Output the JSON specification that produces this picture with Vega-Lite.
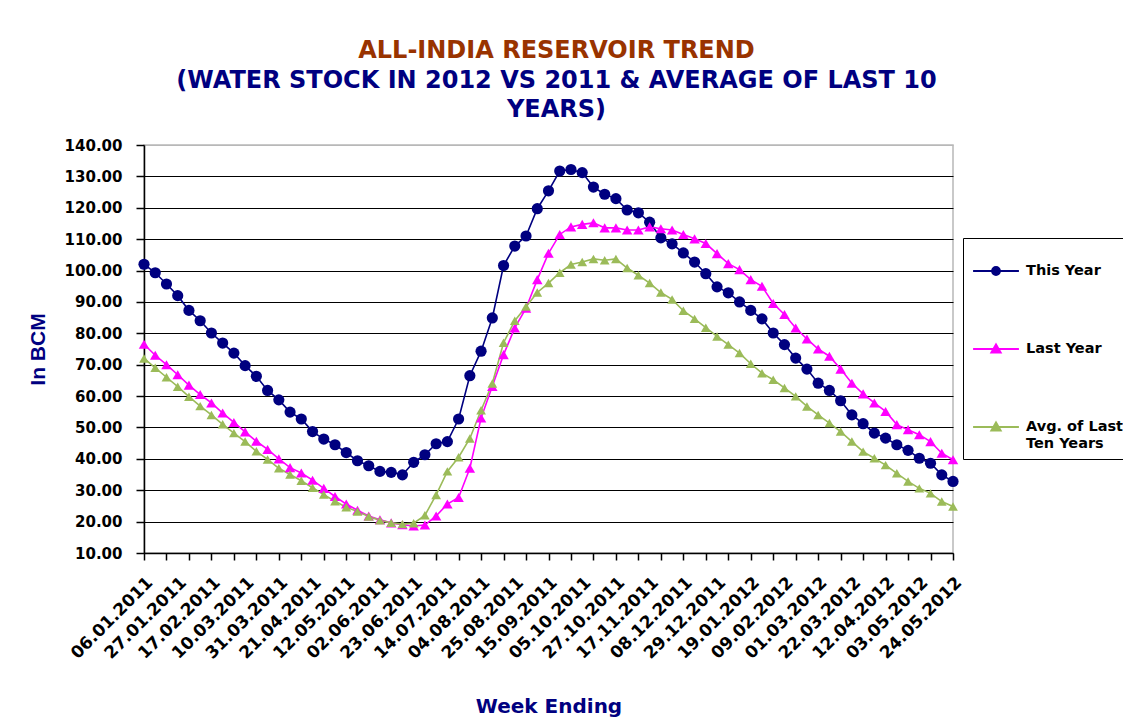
{
  "$schema": "https://vega.github.io/schema/vega-lite/v6.json",
  "width": 809,
  "height": 408,
  "autosize": {"type": "none"},
  "padding": {"left": 144, "top": 145, "right": 170, "bottom": 172},
  "background": "white",
  "params": [
    {"name": "W", "value": ["06.01.2011","13.01.2011","20.01.2011","27.01.2011","03.02.2011","10.02.2011","17.02.2011","24.02.2011","03.03.2011","10.03.2011","17.03.2011","24.03.2011","31.03.2011","07.04.2011","14.04.2011","21.04.2011","28.04.2011","05.05.2011","12.05.2011","19.05.2011","26.05.2011","02.06.2011","09.06.2011","16.06.2011","23.06.2011","30.06.2011","07.07.2011","14.07.2011","21.07.2011","28.07.2011","04.08.2011","11.08.2011","18.08.2011","25.08.2011","01.09.2011","08.09.2011","15.09.2011","22.09.2011","29.09.2011","05.10.2011","13.10.2011","20.10.2011","27.10.2011","03.11.2011","10.11.2011","17.11.2011","24.11.2011","01.12.2011","08.12.2011","15.12.2011","22.12.2011","29.12.2011","05.01.2012","12.01.2012","19.01.2012","26.01.2012","02.02.2012","09.02.2012","16.02.2012","23.02.2012","01.03.2012","08.03.2012","15.03.2012","22.03.2012","29.03.2012","05.04.2012","12.04.2012","19.04.2012","26.04.2012","03.05.2012","10.05.2012","17.05.2012","24.05.2012"]}
  ],
  "title": {
    "text": "ALL-INDIA RESERVOIR TREND",
    "subtitle": ["(WATER STOCK IN 2012 VS 2011  & AVERAGE OF LAST 10", "YEARS)"],
    "anchor": "middle",
    "frame": "group",
    "dx": 8,
    "offset": 16,
    "font": "DejaVu Sans",
    "fontSize": 24,
    "fontWeight": "bold",
    "color": "#993300",
    "subtitleFont": "DejaVu Sans",
    "subtitleFontSize": 24,
    "subtitleFontWeight": "bold",
    "subtitleColor": "#000080",
    "subtitlePadding": 6,
    "subtitleLineHeight": 29
  },
  "data": {
    "values": [
      {"week": "06.01.2011", "This Year": 102.0, "Last Year": 76.5, "Avg of Last Ten Years": 72.0},
      {"week": "13.01.2011", "This Year": 99.3, "Last Year": 73.0, "Avg of Last Ten Years": 69.0},
      {"week": "20.01.2011", "This Year": 95.7, "Last Year": 70.0, "Avg of Last Ten Years": 66.0},
      {"week": "27.01.2011", "This Year": 92.0, "Last Year": 66.8, "Avg of Last Ten Years": 63.0},
      {"week": "03.02.2011", "This Year": 87.3, "Last Year": 63.5, "Avg of Last Ten Years": 59.8},
      {"week": "10.02.2011", "This Year": 84.0, "Last Year": 60.5, "Avg of Last Ten Years": 56.8},
      {"week": "17.02.2011", "This Year": 80.1, "Last Year": 57.8, "Avg of Last Ten Years": 54.0},
      {"week": "24.02.2011", "This Year": 76.9, "Last Year": 54.6, "Avg of Last Ten Years": 51.0},
      {"week": "03.03.2011", "This Year": 73.7, "Last Year": 51.6, "Avg of Last Ten Years": 48.2},
      {"week": "10.03.2011", "This Year": 69.7, "Last Year": 48.6, "Avg of Last Ten Years": 45.5},
      {"week": "17.03.2011", "This Year": 66.3, "Last Year": 45.6, "Avg of Last Ten Years": 42.4},
      {"week": "24.03.2011", "This Year": 61.8, "Last Year": 43.0, "Avg of Last Ten Years": 39.8},
      {"week": "31.03.2011", "This Year": 58.8, "Last Year": 40.0, "Avg of Last Ten Years": 37.0},
      {"week": "07.04.2011", "This Year": 54.9, "Last Year": 37.2, "Avg of Last Ten Years": 35.0},
      {"week": "14.04.2011", "This Year": 52.7, "Last Year": 35.5, "Avg of Last Ten Years": 33.0},
      {"week": "21.04.2011", "This Year": 48.7, "Last Year": 33.2, "Avg of Last Ten Years": 30.8},
      {"week": "28.04.2011", "This Year": 46.3, "Last Year": 30.6, "Avg of Last Ten Years": 28.6},
      {"week": "05.05.2011", "This Year": 44.5, "Last Year": 28.0, "Avg of Last Ten Years": 26.5},
      {"week": "12.05.2011", "This Year": 42.0, "Last Year": 25.6, "Avg of Last Ten Years": 24.6},
      {"week": "19.05.2011", "This Year": 39.4, "Last Year": 23.6, "Avg of Last Ten Years": 23.2},
      {"week": "26.05.2011", "This Year": 37.8, "Last Year": 21.8, "Avg of Last Ten Years": 21.6},
      {"week": "02.06.2011", "This Year": 36.0, "Last Year": 20.6, "Avg of Last Ten Years": 20.4},
      {"week": "09.06.2011", "This Year": 35.7, "Last Year": 19.6, "Avg of Last Ten Years": 19.6},
      {"week": "16.06.2011", "This Year": 34.9, "Last Year": 19.0, "Avg of Last Ten Years": 19.2},
      {"week": "23.06.2011", "This Year": 38.9, "Last Year": 18.6, "Avg of Last Ten Years": 19.5},
      {"week": "30.06.2011", "This Year": 41.3, "Last Year": 18.9, "Avg of Last Ten Years": 22.0},
      {"week": "07.07.2011", "This Year": 44.8, "Last Year": 21.8, "Avg of Last Ten Years": 28.5},
      {"week": "14.07.2011", "This Year": 45.5, "Last Year": 25.6, "Avg of Last Ten Years": 36.0},
      {"week": "21.07.2011", "This Year": 52.7, "Last Year": 27.7, "Avg of Last Ten Years": 40.5},
      {"week": "28.07.2011", "This Year": 66.5, "Last Year": 37.0, "Avg of Last Ten Years": 46.5},
      {"week": "04.08.2011", "This Year": 74.3, "Last Year": 53.0, "Avg of Last Ten Years": 55.5},
      {"week": "11.08.2011", "This Year": 84.9, "Last Year": 63.1, "Avg of Last Ten Years": 64.0},
      {"week": "18.08.2011", "This Year": 101.6, "Last Year": 73.2, "Avg of Last Ten Years": 77.0},
      {"week": "25.08.2011", "This Year": 107.8, "Last Year": 81.7, "Avg of Last Ten Years": 84.0},
      {"week": "01.09.2011", "This Year": 111.0, "Last Year": 88.0, "Avg of Last Ten Years": 88.5},
      {"week": "08.09.2011", "This Year": 119.7, "Last Year": 97.1, "Avg of Last Ten Years": 93.0},
      {"week": "15.09.2011", "This Year": 125.4, "Last Year": 105.5, "Avg of Last Ten Years": 96.0},
      {"week": "22.09.2011", "This Year": 131.7, "Last Year": 111.5, "Avg of Last Ten Years": 99.3},
      {"week": "29.09.2011", "This Year": 132.2, "Last Year": 113.9, "Avg of Last Ten Years": 101.9},
      {"week": "05.10.2011", "This Year": 131.2, "Last Year": 114.7, "Avg of Last Ten Years": 102.7},
      {"week": "13.10.2011", "This Year": 126.6, "Last Year": 115.2, "Avg of Last Ten Years": 103.7},
      {"week": "20.10.2011", "This Year": 124.3, "Last Year": 113.6, "Avg of Last Ten Years": 103.3},
      {"week": "27.10.2011", "This Year": 122.9, "Last Year": 113.6, "Avg of Last Ten Years": 103.7},
      {"week": "03.11.2011", "This Year": 119.3, "Last Year": 112.9, "Avg of Last Ten Years": 100.8},
      {"week": "10.11.2011", "This Year": 118.4, "Last Year": 112.9, "Avg of Last Ten Years": 98.5},
      {"week": "17.11.2011", "This Year": 115.4, "Last Year": 113.9, "Avg of Last Ten Years": 96.0},
      {"week": "24.11.2011", "This Year": 110.4, "Last Year": 113.3, "Avg of Last Ten Years": 93.0},
      {"week": "01.12.2011", "This Year": 108.5, "Last Year": 112.9, "Avg of Last Ten Years": 90.8},
      {"week": "08.12.2011", "This Year": 105.6, "Last Year": 111.5, "Avg of Last Ten Years": 87.2},
      {"week": "15.12.2011", "This Year": 102.7, "Last Year": 110.1, "Avg of Last Ten Years": 84.6},
      {"week": "22.12.2011", "This Year": 99.0, "Last Year": 108.6, "Avg of Last Ten Years": 81.8},
      {"week": "29.12.2011", "This Year": 94.8, "Last Year": 105.4, "Avg of Last Ten Years": 79.0},
      {"week": "05.01.2012", "This Year": 92.9, "Last Year": 102.2, "Avg of Last Ten Years": 76.4},
      {"week": "12.01.2012", "This Year": 90.0, "Last Year": 100.3, "Avg of Last Ten Years": 73.7},
      {"week": "19.01.2012", "This Year": 87.3, "Last Year": 97.1, "Avg of Last Ten Years": 70.3},
      {"week": "26.01.2012", "This Year": 84.6, "Last Year": 95.0, "Avg of Last Ten Years": 67.3},
      {"week": "02.02.2012", "This Year": 80.1, "Last Year": 89.5, "Avg of Last Ten Years": 65.2},
      {"week": "09.02.2012", "This Year": 76.4, "Last Year": 86.0, "Avg of Last Ten Years": 62.6},
      {"week": "16.02.2012", "This Year": 72.1, "Last Year": 81.7, "Avg of Last Ten Years": 59.9},
      {"week": "23.02.2012", "This Year": 68.6, "Last Year": 78.2, "Avg of Last Ten Years": 56.7},
      {"week": "01.03.2012", "This Year": 64.1, "Last Year": 75.0, "Avg of Last Ten Years": 54.0},
      {"week": "08.03.2012", "This Year": 61.8, "Last Year": 72.7, "Avg of Last Ten Years": 51.4},
      {"week": "15.03.2012", "This Year": 58.5, "Last Year": 68.6, "Avg of Last Ten Years": 48.7},
      {"week": "22.03.2012", "This Year": 54.0, "Last Year": 64.1, "Avg of Last Ten Years": 45.5},
      {"week": "29.03.2012", "This Year": 51.2, "Last Year": 60.7, "Avg of Last Ten Years": 42.3},
      {"week": "05.04.2012", "This Year": 48.2, "Last Year": 57.8, "Avg of Last Ten Years": 40.2},
      {"week": "12.04.2012", "This Year": 46.6, "Last Year": 55.1, "Avg of Last Ten Years": 38.0},
      {"week": "19.04.2012", "This Year": 44.5, "Last Year": 50.9, "Avg of Last Ten Years": 35.4},
      {"week": "26.04.2012", "This Year": 42.7, "Last Year": 49.3, "Avg of Last Ten Years": 32.8},
      {"week": "03.05.2012", "This Year": 40.2, "Last Year": 47.7, "Avg of Last Ten Years": 30.6},
      {"week": "10.05.2012", "This Year": 38.6, "Last Year": 45.5, "Avg of Last Ten Years": 29.0},
      {"week": "17.05.2012", "This Year": 34.9, "Last Year": 41.8, "Avg of Last Ten Years": 26.4},
      {"week": "24.05.2012", "This Year": 32.8, "Last Year": 39.7, "Avg of Last Ten Years": 24.8}
    ]
  },
  "transform": [
    {"fold": ["This Year", "Last Year", "Avg of Last Ten Years"], "as": ["series", "value"]}
  ],
  "encoding": {
    "x": {
      "field": "week",
      "type": "nominal",
      "sort": null,
      "scale": {"type": "point", "padding": 0},
      "axis": {
        "title": "Week Ending",
        "titleFont": "DejaVu Sans",
        "titleFontSize": 20,
        "titleFontWeight": "bold",
        "titleColor": "#000080",
        "titlePadding": 35,
        "labelAngle": -45,
        "labelFont": "DejaVu Sans",
        "labelFontSize": 17,
        "labelFontWeight": "bold",
        "labelColor": "black",
        "labelPadding": 14,
        "labelOverlap": false,
        "labelExpr": "indexof(W, datum.value) % 3 == 0 ? datum.value : ''",
        "tickSize": 7,
        "tickColor": "black",
        "tickWidth": 1.5,
        "tickOpacity": {"condition": {"test": "indexof(W, datum.value) % 2 == 0", "value": 1}, "value": 0},
        "domainColor": "black",
        "domainWidth": 1.5,
        "grid": false
      }
    },
    "y": {
      "field": "value",
      "type": "quantitative",
      "scale": {"domain": [10, 140], "nice": false, "zero": false},
      "axis": {
        "title": "In BCM",
        "titleFont": "Liberation Sans",
        "titleFontSize": 21,
        "titleFontWeight": "bold",
        "titleColor": "#000080",
        "titlePadding": 16,
        "values": [10, 20, 30, 40, 50, 60, 70, 80, 90, 100, 110, 120, 130, 140],
        "format": ".2f",
        "labelFont": "DejaVu Sans",
        "labelFontSize": 15,
        "labelFontWeight": "bold",
        "labelColor": "black",
        "labelPadding": 14,
        "tickSize": 8,
        "tickColor": "black",
        "tickWidth": 1.5,
        "domainColor": "black",
        "domainWidth": 1.5,
        "grid": true,
        "gridColor": {"condition": {"test": "datum.value == 140", "value": "#b8b8b8"}, "value": "black"},
        "gridWidth": 1.2
      }
    }
  },
  "layer": [
    {
      "mark": {"type": "line", "strokeWidth": 1.6},
      "encoding": {
        "color": {
          "field": "series",
          "type": "nominal",
          "scale": {"domain": ["This Year", "Last Year", "Avg of Last Ten Years"], "range": ["#000080", "#FF00FF", "#9BBB59"]},
          "legend": null
        }
      }
    },
    {
      "mark": {"type": "point", "filled": true, "opacity": 1},
      "encoding": {
        "color": {
          "field": "series",
          "type": "nominal",
          "scale": {"domain": ["This Year", "Last Year", "Avg of Last Ten Years"], "range": ["#000080", "#FF00FF", "#9BBB59"]},
          "legend": null
        },
        "shape": {
          "field": "series",
          "type": "nominal",
          "scale": {"domain": ["This Year", "Last Year", "Avg of Last Ten Years"], "range": ["circle", "triangle-up", "triangle-up"]},
          "legend": null
        },
        "size": {
          "field": "series",
          "type": "nominal",
          "scale": {"domain": ["This Year", "Last Year", "Avg of Last Ten Years"], "range": [125, 95, 170]},
          "legend": null
        },
        "order": {"field": "series", "sort": "descending"}
      }
    },
    {
      "transform": [{"filter": {"field": "series", "equal": "none"}}],
      "mark": {"type": "point", "filled": true, "opacity": 1},
      "encoding": {
        "color": {
          "field": "series",
          "type": "nominal",
          "scale": {"domain": ["This Year", "Last Year", "Avg of Last Ten Years"], "range": ["#000080", "#FF00FF", "#9BBB59"]},
          "legend": {
            "orient": "none", "legendX": 819, "legendY": 93, "title": null, "padding": 9, "strokeColor": "black",
            "labelFont": "DejaVu Sans", "labelFontSize": 14.5, "labelFontWeight": "bold", "labelColor": "black", "labelOffset": 6,
            "symbolSize": 2100, "symbolStrokeWidth": 2,
            "symbolFillColor": {"expr": "datum.value == 'This Year' ? '#000080' : datum.value == 'Last Year' ? '#FF00FF' : '#9BBB59'"},
            "symbolStrokeColor": {"expr": "datum.value == 'This Year' ? '#000080' : datum.value == 'Last Year' ? '#FF00FF' : '#9BBB59'"},
            "rowPadding": 46,
            "labelExpr": "datum.label == 'Avg of Last Ten Years' ? ['Avg. of Last', 'Ten Years'] : datum.label"
          }
        },
        "stroke": {
          "field": "series",
          "type": "nominal",
          "scale": {"domain": ["This Year", "Last Year", "Avg of Last Ten Years"], "range": ["#000080", "#FF00FF", "#9BBB59"]},
          "legend": {
            "orient": "none", "legendX": 819, "legendY": 93, "title": null, "padding": 9, "strokeColor": "black",
            "labelFont": "DejaVu Sans", "labelFontSize": 14.5, "labelFontWeight": "bold", "labelColor": "black", "labelOffset": 6,
            "symbolSize": 2100, "symbolStrokeWidth": 2,
            "symbolFillColor": {"expr": "datum.value == 'This Year' ? '#000080' : datum.value == 'Last Year' ? '#FF00FF' : '#9BBB59'"},
            "symbolStrokeColor": {"expr": "datum.value == 'This Year' ? '#000080' : datum.value == 'Last Year' ? '#FF00FF' : '#9BBB59'"},
            "rowPadding": 46,
            "labelExpr": "datum.label == 'Avg of Last Ten Years' ? ['Avg. of Last', 'Ten Years'] : datum.label"
          }
        },
        "shape": {
          "field": "series",
          "type": "nominal",
          "scale": {"domain": ["This Year", "Last Year", "Avg of Last Ten Years"], "range": ["M-1,0H1M-0.17,0A0.17,0.17,0,1,0,0.17,0A0.17,0.17,0,1,0,-0.17,0Z", "M-1,0H1M0,-0.2L0.2,0.15L-0.2,0.15Z", "M-1,0H1M0,-0.2L0.2,0.15L-0.2,0.15Z"]},
          "legend": {
            "orient": "none", "legendX": 819, "legendY": 93, "title": null, "padding": 9, "strokeColor": "black",
            "labelFont": "DejaVu Sans", "labelFontSize": 14.5, "labelFontWeight": "bold", "labelColor": "black", "labelOffset": 6,
            "symbolSize": 2100, "symbolStrokeWidth": 2,
            "symbolFillColor": {"expr": "datum.value == 'This Year' ? '#000080' : datum.value == 'Last Year' ? '#FF00FF' : '#9BBB59'"},
            "symbolStrokeColor": {"expr": "datum.value == 'This Year' ? '#000080' : datum.value == 'Last Year' ? '#FF00FF' : '#9BBB59'"},
            "rowPadding": 46,
            "labelExpr": "datum.label == 'Avg of Last Ten Years' ? ['Avg. of Last', 'Ten Years'] : datum.label"
          }
        }
      }
    }
  ],
  "resolve": {"scale": {"shape": "independent"}},
  "config": {
    "view": {"stroke": "#b8b8b8", "strokeWidth": 1.5}
  }
}
